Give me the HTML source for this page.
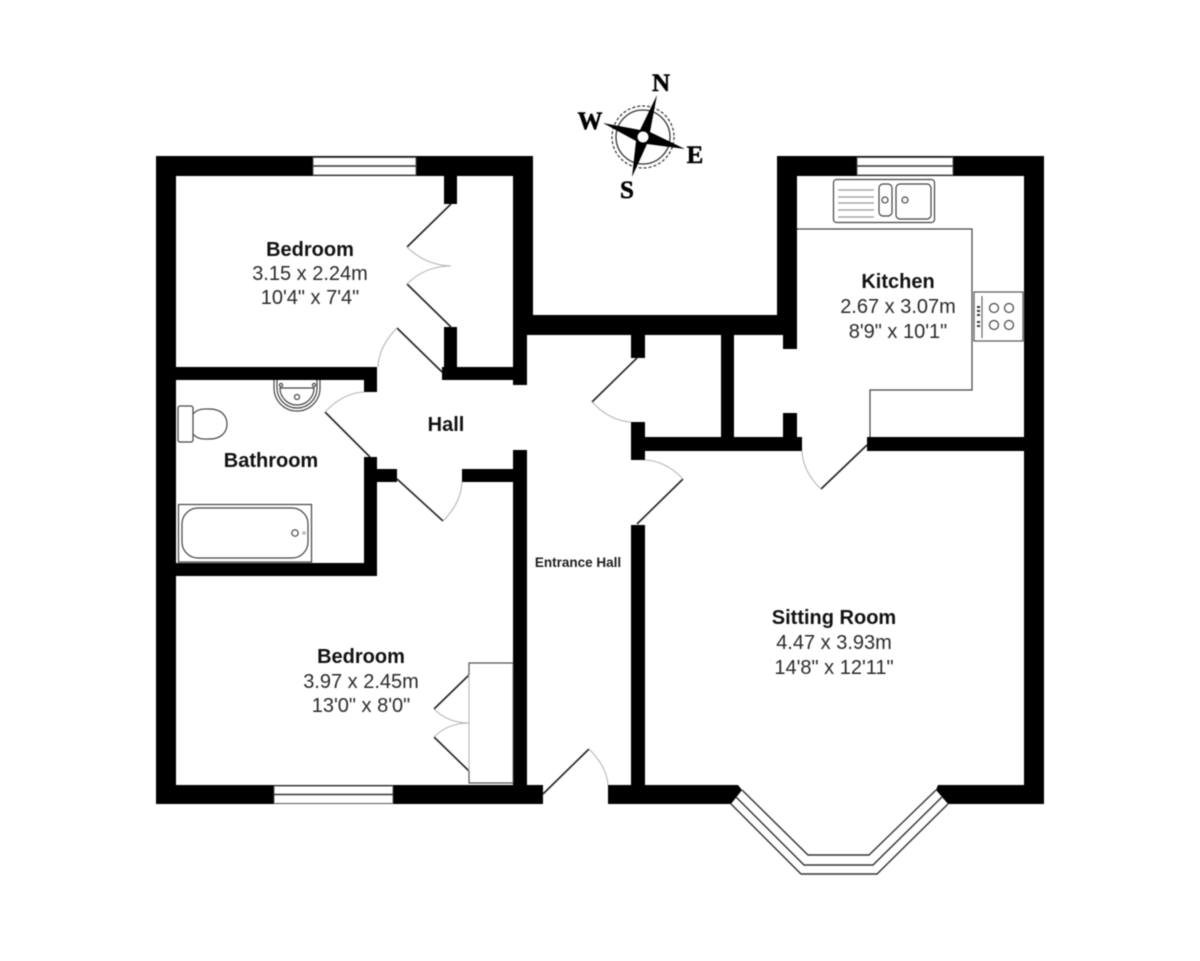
<!DOCTYPE html>
<html><head><meta charset="utf-8"><style>
html,body{margin:0;padding:0;background:#fff}
svg{display:block;filter:blur(.4px)}
text{font-family:"Liberation Sans",sans-serif;text-anchor:middle;fill:#1c1c1c}
.b{font-weight:bold;font-size:20px;fill:#111}
.r{font-size:20px;fill:#2a2a2a}
.c{font-family:"Liberation Serif",serif;font-weight:bold;font-size:25px;fill:#000;stroke:#000;stroke-width:.5}
.d{fill:none;stroke:#222;stroke-width:1.6}
.a{fill:none;stroke:#b5b5b5;stroke-width:1.1}
.f{fill:none;stroke:#444;stroke-width:1.2}
</style></head><body>
<svg width="1200" height="961" viewBox="0 0 1200 961" xmlns="http://www.w3.org/2000/svg">
<rect width="1200" height="961" fill="#fff"/>
<g fill="#000">
<rect x="156" y="156" width="377" height="20"/>
<rect x="156" y="156" width="20" height="648"/>
<rect x="156" y="785" width="387" height="19"/>
<rect x="513" y="156" width="20" height="179"/>
<rect x="513" y="335" width="14" height="50"/>
<rect x="444" y="176" width="13" height="28"/>
<rect x="444" y="327" width="13" height="53"/>
<rect x="442" y="367" width="71" height="13"/>
<rect x="176" y="367" width="201" height="13"/>
<rect x="364" y="367" width="13" height="25"/>
<rect x="364" y="457" width="13" height="119"/>
<rect x="176" y="563" width="201" height="13"/>
<rect x="377" y="469" width="20" height="13"/>
<rect x="462" y="469" width="51" height="13"/>
<rect x="513" y="450" width="14" height="354"/>
<rect x="527" y="315" width="270" height="20"/>
<rect x="631" y="335" width="14" height="23"/>
<rect x="631" y="422" width="14" height="38"/>
<rect x="645" y="437" width="157" height="14"/>
<rect x="721" y="335" width="13" height="102"/>
<rect x="783" y="335" width="14" height="14"/>
<rect x="783" y="413" width="14" height="24"/>
<rect x="777" y="156" width="20" height="179"/>
<rect x="777" y="156" width="267" height="20"/>
<rect x="1024" y="156" width="20" height="648"/>
<rect x="867" y="437" width="157" height="14"/>
<rect x="631" y="525" width="14" height="260"/>
<polygon points="608,785 738,785 742,790 731,804 608,804"/>
<polygon points="938,785 1044,785 1044,804 948,804 936,790"/>
</g>
<!-- windows -->
<g fill="#fff" stroke="#555" stroke-width="1">
<rect x="313" y="157.5" width="103" height="17.5"/>
<rect x="857" y="157.5" width="96" height="17.5"/>
<rect x="274" y="786" width="119" height="17.5"/>
</g>
<g stroke="#333" stroke-width="1.4">
<line x1="313" y1="166" x2="416" y2="166"/>
<line x1="857" y1="166" x2="953" y2="166"/>
<line x1="274" y1="794.500" x2="393" y2="794.500"/>
</g>
<!-- bay window -->
<g fill="none" stroke="#333" stroke-width="1.4">
<polyline points="742,790 808,855 869,855 936,790"/>
<polyline points="736,797 804,865 873,865 942,797"/>
<polyline points="731,804 801,874 877,874 948,804"/>
</g>
<!-- doors -->
<g class="d">
<path class="d" d="M451,204 L407,247"/>
<path class="d" d="M451,327 L407,284"/>
<path class="d" d="M442,372 L397,328"/>
<path class="d" d="M325,412 L370,457"/>
<path class="d" d="M397,479 L443,521"/>
<path class="d" d="M637,358 L592,402"/>
<path class="d" d="M637,524 L683,479"/>
<path class="d" d="M867,445 L821,489"/>
<path class="d" d="M543,794 L589,749"/>
<path class="d" d="M469,675 L434,709"/>
<path class="d" d="M434,737 L469,771"/>
</g>
<g class="a">
<path class="a" d="M407,247 Q425,265 451,266"/>
<path class="a" d="M407,284 Q425,266 451,266"/>
<path class="a" d="M397,328 Q379,346 378,367"/>
<path class="a" d="M325,412 Q343,393 364,392"/>
<path class="a" d="M443,521 Q461,503 462,482"/>
<path class="a" d="M592,402 Q610,421 631,422"/>
<path class="a" d="M645,460 Q666,461 683,479"/>
<path class="a" d="M802,451 Q803,472 821,489"/>
<path class="a" d="M589,749 Q607,767 608,785"/>
<path class="a" d="M434,709 Q448,723 469,723"/>
<path class="a" d="M434,737 Q448,723 469,723"/>
</g>
<!-- wardrobe -->
<path d="M469,675 V663 H513" fill="none" stroke="#555" stroke-width="1.2"/>
<path d="M469,675 V771" fill="none" stroke="#bbb" stroke-width="1.2"/>
<path d="M469,771 V783 H513" fill="none" stroke="#555" stroke-width="1.2"/>
<line x1="513" y1="663" x2="513" y2="783" stroke="#666" stroke-width="1"/>
<!-- kitchen counter -->
<path d="M797,229 H972 V390 H870 V437" class="f"/>
<!-- sink -->
<g class="f">
<rect x="833.500" y="179.500" width="101" height="43" rx="3"/>
<rect x="879" y="184" width="13" height="32" rx="4"/>
<rect x="896" y="184" width="35" height="35" rx="4"/>
<circle cx="885" cy="200" r="3"/>
<circle cx="905" cy="200" r="3"/>
</g>
<g stroke="#999" stroke-width="1.200">
<line x1="838" y1="190" x2="874" y2="190"/>
<line x1="838" y1="197" x2="874" y2="197"/>
<line x1="838" y1="203" x2="874" y2="203"/>
<line x1="838" y1="210" x2="874" y2="210"/>
<line x1="838" y1="217" x2="874" y2="217"/>
</g>
<!-- hob -->
<rect x="974" y="292" width="49" height="49" fill="#fff" stroke="#555" stroke-width="1.2"/>
<line x1="982" y1="296" x2="982" y2="338" stroke="#666" stroke-width="1.2"/>
<g fill="#333">
<rect x="977" y="306" width="3" height="2"/><rect x="977" y="310" width="3" height="2"/><rect x="977" y="314" width="3" height="2"/>
<rect x="977" y="321" width="3" height="2"/><rect x="977" y="325" width="3" height="2"/>
</g>
<g class="f">
<circle cx="994" cy="308" r="4.500"/><circle cx="1009" cy="308" r="4.500"/>
<circle cx="994" cy="325" r="4.500"/><circle cx="1009" cy="325" r="4.500"/>
</g>
<!-- basin -->
<g class="f">
<path d="M274,380 V388 A23,23 0 0 0 320,388 V380"/>
<path d="M277,380 V388 A20,20 0 0 0 317,388 V380"/>
<path d="M280,388 H314 A17,17 0 0 1 280,388 Z"/>
<circle cx="297" cy="397" r="2.500"/>
<circle cx="281" cy="385" r="1.600"/>
<circle cx="314" cy="385" r="1.600"/>
</g>
<!-- toilet -->
<g class="f" stroke-width="1.3">
<rect x="178" y="406" width="15" height="36" rx="2"/>
<path d="M193,414 C198,408 206,409 210,409 C220,409 227,415 227,424 C227,433 220,439 210,439 C205,439 198,440 193,434"/>
</g>
<!-- bath -->
<g class="f">
<rect x="178.500" y="504.500" width="133" height="57.500"/>
<rect x="182" y="508" width="126" height="50" rx="16"/>
<circle cx="295" cy="533" r="3.200"/>
<circle cx="304" cy="533" r="1.200" stroke="#aaa"/>
</g>
<!-- compass -->
<circle cx="643" cy="137" r="27" fill="none" stroke="#333" stroke-width="1.300"/>
<circle cx="643" cy="137" r="31" fill="none" stroke="#333" stroke-width="1.200" stroke-dasharray="3 2"/>
<polygon fill="#000" points="657,95 650,132 685,149 647,144 632,177 636,141 603,123 640,130"/>
<circle cx="643" cy="137" r="5.500" fill="#fff"/>
<text class="c" x="661" y="91">N</text>
<text class="c" x="590" y="129">W</text>
<text class="c" x="695" y="163">E</text>
<text class="c" x="627" y="198">S</text>
<!-- labels -->
<text class="b" x="310" y="256">Bedroom</text>
<text class="r" x="310" y="280">3.15 x 2.24m</text>
<text class="r" x="310" y="304">10'4" x 7'4"</text>
<text class="b" x="446" y="431">Hall</text>
<text class="b" x="271" y="467">Bathroom</text>
<text x="578" y="567" style="font-weight:bold;font-size:13.500px">Entrance Hall</text>
<text class="b" x="898" y="288">Kitchen</text>
<text class="r" x="898" y="313">2.67 x 3.07m</text>
<text class="r" x="898" y="338">8'9" x 10'1"</text>
<text class="b" x="834" y="624">Sitting Room</text>
<text class="r" x="834" y="649">4.47 x 3.93m</text>
<text class="r" x="834" y="674">14'8" x 12'11"</text>
<text class="b" x="361" y="663">Bedroom</text>
<text class="r" x="361" y="688">3.97 x 2.45m</text>
<text class="r" x="361" y="712">13'0" x 8'0"</text>
</svg>
</body></html>
